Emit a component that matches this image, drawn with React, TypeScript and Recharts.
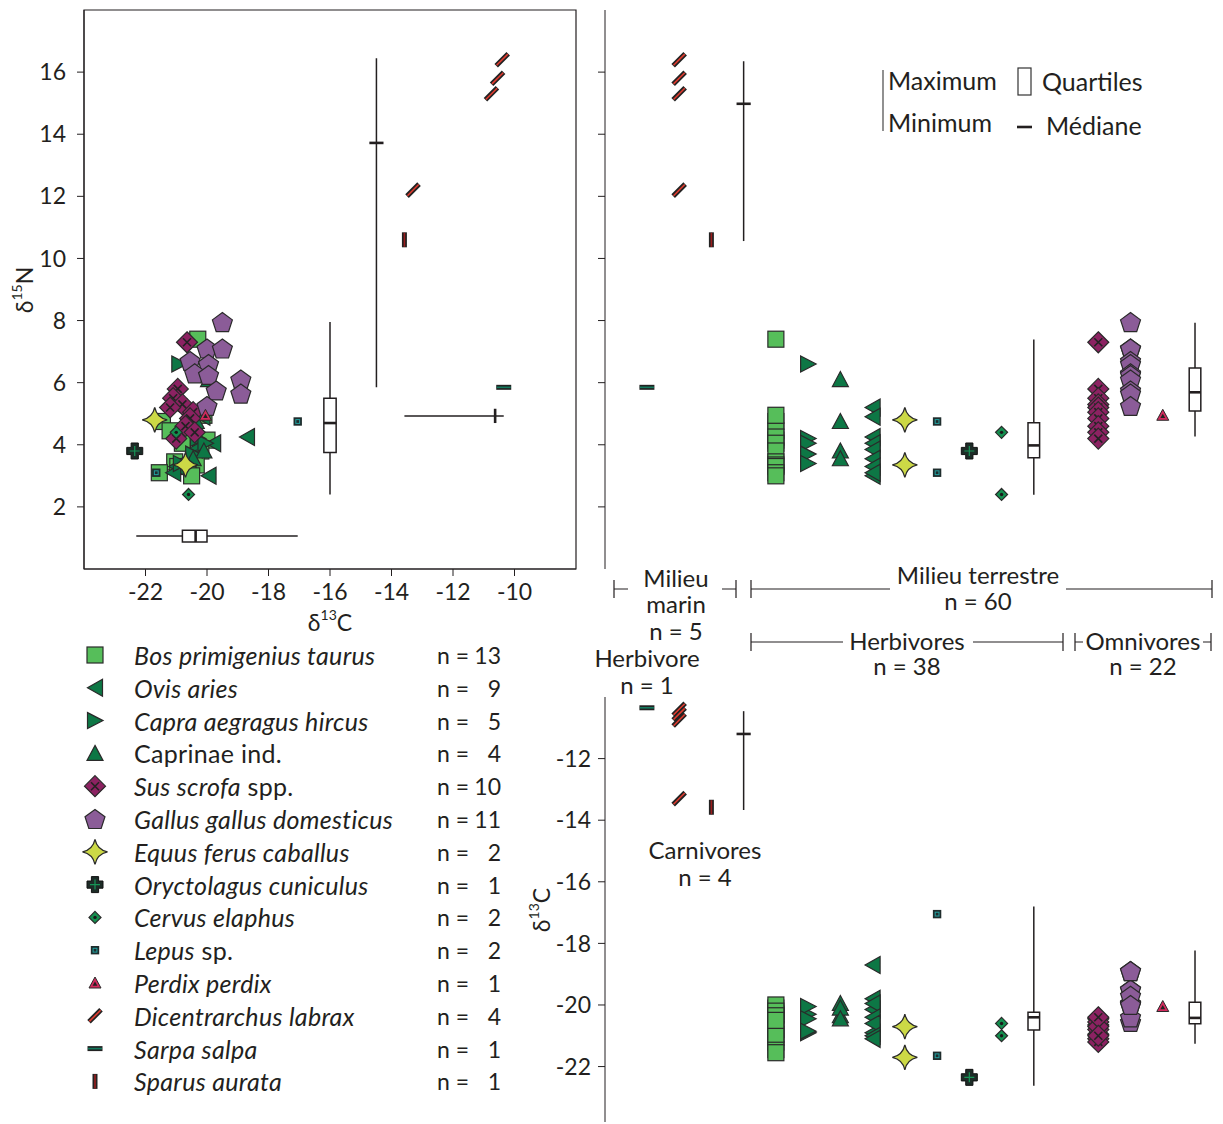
import React from "react";
import { ScatterChart, Scatter, XAxis, YAxis, ReferenceLine, ReferenceArea } from "recharts";

const FONT = "Lato, 'Open Sans', sans-serif";
const INK = "#231f20";
const EDGE = "#2a2a2a";

// species, in legend order
const speciesKeys = ["bos", "ovis", "capra", "caprinae", "sus", "gallus", "equus", "oryctolagus", "cervus", "lepus", "perdix", "dicentrarchus", "sarpa", "sparus"];
const legendItalic = ["Bos primigenius taurus", "Ovis aries", "Capra aegragus hircus", "", "Sus scrofa", "Gallus gallus domesticus", "Equus ferus caballus", "Oryctolagus cuniculus", "Cervus elaphus", "Lepus", "Perdix perdix", "Dicentrarchus labrax", "Sarpa salpa", "Sparus aurata"];
const legendPlain = ["", "", "", "Caprinae ind.", " spp.", "", "", "", "", " sp.", "", "", "", ""];
const speciesCounts = [13, 9, 5, 4, 10, 11, 2, 1, 2, 2, 1, 4, 1, 1];

// d13C / d15N values, paired by position
const bosC = [-20.3, -21.45, -21.2, -20.1, -20.0, -20.65, -20.8, -20.2, -21.05, -20.35, -20.95, -21.55, -20.5];
const bosN = [7.4, 4.75, 4.45, 4.95, 4.15, 4.25, 4.05, 3.8, 3.45, 3.35, 3.3, 3.1, 3.0];
const ovisC = [-18.7, -20.9, -20.15, -19.8, -19.95, -20.4, -20.6, -21.0, -21.1];
const ovisN = [4.25, 5.2, 4.9, 4.05, 3.0, 3.85, 3.55, 3.3, 3.1];
const capraC = [-20.9, -20.3, -20.05, -20.45, -20.85];
const capraN = [6.6, 4.2, 4.05, 3.7, 3.4];
const caprinaeC = [-19.95, -20.35, -20.1, -20.45];
const caprinaeN = [6.1, 4.75, 3.8, 3.55];
const susC = [-20.65, -20.95, -21.1, -20.8, -21.2, -20.45, -20.55, -20.7, -20.4, -21.0];
const susN = [7.3, 5.8, 5.5, 5.3, 5.2, 5.05, 4.85, 4.6, 4.4, 4.2];
const gallusC = [-19.5, -20.0, -19.5, -20.55, -19.95, -20.4, -19.95, -18.9, -19.7, -18.9, -20.0];
const gallusN = [7.95, 7.1, 7.1, 6.7, 6.6, 6.3, 6.25, 6.1, 5.75, 5.65, 5.25];
const equusC = [-21.7, -20.7];
const equusN = [4.8, 3.35];
const oryctolagusC = [-22.35];
const oryctolagusN = [3.8];
const cervusC = [-21.0, -20.6];
const cervusN = [4.4, 2.4];
const lepusC = [-17.05, -21.65];
const lepusN = [4.75, 3.1];
const perdixC = [-20.05];
const perdixN = [4.95];
const dicentrarchusC = [-10.4, -10.55, -10.75, -13.3];
const dicentrarchusN = [16.4, 15.8, 15.3, 12.2];
const sarpaC = [-10.35];
const sarpaN = [5.85];
const sparusC = [-13.58];
const sparusN = [10.6];

const allC = [bosC, ovisC, capraC, caprinaeC, susC, gallusC, equusC, oryctolagusC, cervusC, lepusC, perdixC, dicentrarchusC, sarpaC, sparusC];
const allN = [bosN, ovisN, capraN, caprinaeN, susN, gallusN, equusN, oryctolagusN, cervusN, lepusN, perdixN, dicentrarchusN, sarpaN, sparusN];

// summaries: [min, q1, median, q3, max] for boxes, [min, median, max] for ranges
const terrN = [2.4, 3.75, 4.7, 5.5, 7.95];
const terrC = [-22.3, -20.8, -20.37, -20.0, -17.05];
const marinN = [5.85, 13.72, 16.45];
const marinC = [-13.58, -10.63, -10.35];
const stripMarinN = [10.56, 14.98, 16.35];
const stripHerbN = [2.39, 3.58, 3.98, 4.71, 7.39];
const stripOmniN = [4.27, 5.09, 5.69, 6.47, 7.93];
const stripMarinC = [-13.67, -11.2, -10.46];
const stripHerbC = [-22.62, -20.81, -20.4, -20.24, -16.8];
const stripOmniC = [-21.26, -20.61, -20.42, -19.91, -18.23];

// category order along the strip plots ("" is an empty slot)
const stripSlots = ["sarpa", "dicentrarchus", "sparus", "marin", "bos", "capra", "caprinae", "ovis", "equus", "lepus", "oryctolagus", "cervus", "herbivores", "", "sus", "gallus", "perdix", "omnivores"];

const n15Ticks = [2, 4, 6, 8, 10, 12, 14, 16];
const c13Ticks = [-22, -20, -18, -16, -14, -12, -10];
const c13StripTicks = [-22, -20, -18, -16, -14, -12];

const slot = (k: string) => stripSlots.indexOf(k);

function Marker({ kind, cx, cy }: { kind: string; cx: number; cy: number }) {
  switch (kind) {
    case "bos":
      return <rect x={cx - 8} y={cy - 8} width={16} height={16} fill="#56be5a" stroke={EDGE} strokeWidth={1.2} />;
    case "ovis":
      return <polygon points={`${cx + 7.5},${cy - 8.5} ${cx + 7.5},${cy + 8.5} ${cx - 7.5},${cy}`} fill="#0d7745" stroke={EDGE} strokeWidth={1.2} />;
    case "capra":
      return <polygon points={`${cx - 7.5},${cy - 8} ${cx - 7.5},${cy + 8} ${cx + 8},${cy}`} fill="#0d7745" stroke={EDGE} strokeWidth={1.2} />;
    case "caprinae":
      return <polygon points={`${cx},${cy - 8} ${cx + 8},${cy + 7} ${cx - 8},${cy + 7}`} fill="#0d7745" stroke={EDGE} strokeWidth={1.2} />;
    case "sus":
      return (
        <g>
          <polygon points={`${cx},${cy - 10.5} ${cx + 10.5},${cy} ${cx},${cy + 10.5} ${cx - 10.5},${cy}`} fill="#8c2262" stroke={EDGE} strokeWidth={1.2} />
          <path d={`M${cx - 4},${cy - 4}L${cx + 4},${cy + 4}M${cx + 4},${cy - 4}L${cx - 4},${cy + 4}`} stroke="#222" strokeWidth={1.6} />
        </g>
      );
    case "gallus": {
      const pts = [0, 1, 2, 3, 4].map((k) => {
        const a = (-90 + k * 72) * (Math.PI / 180);
        return `${cx + 10.5 * Math.cos(a)},${cy + 1 + 10.5 * Math.sin(a)}`;
      });
      return <polygon points={pts.join(" ")} fill="#8b5c98" stroke={EDGE} strokeWidth={1.2} />;
    }
    case "equus": {
      const r = 12.5;
      const c = 2.2;
      return (
        <path
          d={`M${cx},${cy - r}Q${cx + c},${cy - c} ${cx + r},${cy}Q${cx + c},${cy + c} ${cx},${cy + r}Q${cx - c},${cy + c} ${cx - r},${cy}Q${cx - c},${cy - c} ${cx},${cy - r}Z`}
          fill="#ccd946"
          stroke={EDGE}
          strokeWidth={1.3}
        />
      );
    }
    case "oryctolagus": {
      const a = 3.6;
      const b = 8;
      const p = [[-a, -b], [a, -b], [a, -a], [b, -a], [b, a], [a, a], [a, b], [-a, b], [-a, a], [-b, a], [-b, -a], [-a, -a]];
      return (
        <g>
          <polygon points={p.map(([x, y]) => `${cx + x},${cy + y}`).join(" ")} fill="#1d2c27" stroke="#111" strokeWidth={1} />
          <path d={`M${cx - 5},${cy}L${cx + 5},${cy}M${cx},${cy - 5}L${cx},${cy + 5}`} stroke="#179556" strokeWidth={1.2} />
        </g>
      );
    }
    case "cervus":
      return (
        <g>
          <polygon points={`${cx},${cy - 6} ${cx + 6},${cy} ${cx},${cy + 6} ${cx - 6},${cy}`} fill="#13904f" stroke={EDGE} strokeWidth={1.2} />
          <circle cx={cx} cy={cy} r={1.7} fill="#1a1a1a" />
        </g>
      );
    case "lepus":
      return (
        <g>
          <rect x={cx - 4.2} y={cy - 4.2} width={8.4} height={8.4} fill="#1f2d2d" />
          <rect x={cx - 1.9} y={cy - 1.9} width={3.8} height={3.8} fill="none" stroke="#22a0a0" strokeWidth={1} />
        </g>
      );
    case "perdix":
      return (
        <g>
          <polygon points={`${cx},${cy - 6} ${cx + 6},${cy + 5} ${cx - 6},${cy + 5}`} fill="#d22a5d" stroke={EDGE} strokeWidth={1} />
          <polygon points={`${cx},${cy - 1.5} ${cx + 2.4},${cy + 2.7} ${cx - 2.4},${cy + 2.7}`} fill="#222" />
        </g>
      );
    case "dicentrarchus":
      return (
        <g>
          <line x1={cx - 6} y1={cy + 6} x2={cx + 6} y2={cy - 6} stroke="#222" strokeWidth={5} />
          <line x1={cx - 5.6} y1={cy + 5.6} x2={cx + 5.6} y2={cy - 5.6} stroke="#e23b2f" strokeWidth={1.6} />
        </g>
      );
    case "sarpa":
      return (
        <g>
          <line x1={cx - 7.5} y1={cy} x2={cx + 7.5} y2={cy} stroke="#222" strokeWidth={5} />
          <line x1={cx - 7} y1={cy} x2={cx + 7} y2={cy} stroke="#127a5e" strokeWidth={1.6} />
        </g>
      );
    case "sparus":
      return (
        <g>
          <line x1={cx} y1={cy - 7.5} x2={cx} y2={cy + 7.5} stroke="#222" strokeWidth={5} />
          <line x1={cx} y1={cy - 7} x2={cx} y2={cy + 7} stroke="#9a1d1d" strokeWidth={1.6} />
        </g>
      );
    default:
      return <g />;
  }
}

const shapeFor = (kind: string) => (p: any) => <Marker kind={kind} cx={p.cx} cy={p.cy} />;

// vertical box: whiskers, box, median
function boxV(x: number, s: number[], hw: number, key: string) {
  const [mn, q1, md, q3, mx] = s;
  return [
    <ReferenceLine key={key + "a"} segment={[{ x, y: mn }, { x, y: q1 }]} stroke={INK} strokeWidth={1.5} />,
    <ReferenceLine key={key + "b"} segment={[{ x, y: q3 }, { x, y: mx }]} stroke={INK} strokeWidth={1.5} />,
    <ReferenceArea key={key + "c"} x1={x - hw} x2={x + hw} y1={q1} y2={q3} fill="#fff" fillOpacity={1} stroke={INK} strokeWidth={1.5} />,
    <ReferenceLine key={key + "d"} segment={[{ x: x - hw, y: md }, { x: x + hw, y: md }]} stroke={INK} strokeWidth={2.6} />,
  ];
}

function boxH(y: number, s: number[], hh: number, key: string) {
  const [mn, q1, md, q3, mx] = s;
  return [
    <ReferenceLine key={key + "a"} segment={[{ x: mn, y }, { x: q1, y }]} stroke={INK} strokeWidth={1.5} />,
    <ReferenceLine key={key + "b"} segment={[{ x: q3, y }, { x: mx, y }]} stroke={INK} strokeWidth={1.5} />,
    <ReferenceArea key={key + "c"} x1={q1} x2={q3} y1={y - hh} y2={y + hh} fill="#fff" fillOpacity={1} stroke={INK} strokeWidth={1.5} />,
    <ReferenceLine key={key + "d"} segment={[{ x: md, y: y - hh }, { x: md, y: y + hh }]} stroke={INK} strokeWidth={2.6} />,
  ];
}

function rangeV(x: number, s: number[], hw: number, key: string) {
  const [mn, md, mx] = s;
  return [
    <ReferenceLine key={key + "a"} segment={[{ x, y: mn }, { x, y: mx }]} stroke={INK} strokeWidth={1.5} />,
    <ReferenceLine key={key + "b"} segment={[{ x: x - hw, y: md }, { x: x + hw, y: md }]} stroke={INK} strokeWidth={2.6} />,
  ];
}

function rangeH(y: number, s: number[], hh: number, key: string) {
  const [mn, md, mx] = s;
  return [
    <ReferenceLine key={key + "a"} segment={[{ x: mn, y }, { x: mx, y }]} stroke={INK} strokeWidth={1.5} />,
    <ReferenceLine key={key + "b"} segment={[{ x: md, y: y - hh }, { x: md, y: y + hh }]} stroke={INK} strokeWidth={2.6} />,
  ];
}

const tickStyle = { fill: INK, fontSize: 23, fontFamily: FONT };

function Delta({ x, y, iso, el, rotate }: { x: number; y: number; iso: string; el: string; rotate?: boolean }) {
  return (
    <text
      transform={`translate(${x},${y})${rotate ? " rotate(-90)" : ""}`}
      textAnchor="middle"
      dominantBaseline="central"
      fontSize={23}
      fontFamily={FONT}
      fill={INK}
    >
      <tspan>δ</tspan>
      <tspan fontSize={14} dy={-8}>{iso}</tspan>
      <tspan dy={8}>{el}</tspan>
    </text>
  );
}

export default function App() {
  const stripN = speciesKeys.map((k, i) => allN[i].map((v) => ({ x: slot(k), y: v })));
  const stripC = speciesKeys.map((k, i) => allC[i].map((v) => ({ x: slot(k), y: v })));
  const pairs = speciesKeys.map((k, i) => allC[i].map((v, j) => ({ x: v, y: allN[i][j] })));
  const stripDomain: [number, number] = [-1.3, 17.62];
  const txt = { fontFamily: FONT, fill: INK };
  const LF = 25;
  const AF = 24;

  return (
    <div style={{ position: "absolute", left: 0, top: 0, width: 1223, height: 1124, background: "#fff" }}>
      {/* d13C vs d15N */}
      <div style={{ position: "absolute", left: 0, top: 0 }}>
        <ScatterChart width={600} height={610} margin={{ top: 10, right: 24, bottom: 11, left: 24 }}>
          <XAxis type="number" dataKey="x" domain={[-24, -8]} ticks={c13Ticks} allowDataOverflow height={30} tickSize={7} tickMargin={8} axisLine={{ stroke: INK }} tickLine={{ stroke: INK }} tick={tickStyle} />
          <YAxis type="number" dataKey="y" domain={[0, 18]} ticks={n15Ticks} allowDataOverflow width={60} tickSize={7} tickMargin={11} axisLine={{ stroke: INK }} tickLine={{ stroke: INK }} tick={tickStyle} />
          <ReferenceArea x1={-24} x2={-8} y1={0} y2={18} fill="none" stroke={INK} strokeWidth={1.2} />
          {boxV(-16, terrN, 0.2, "tv")}
          {boxH(1.06, terrC, 0.19, "th")}
          {rangeV(-14.49, marinN, 0.23, "mv")}
          {rangeH(4.93, marinC, 0.23, "mh")}
          {speciesKeys.map((k, i) => (
            <Scatter key={k} data={pairs[i]} shape={shapeFor(k)} isAnimationActive={false} />
          ))}
        </ScatterChart>
      </div>

      {/* d15N per category */}
      <div style={{ position: "absolute", left: 530, top: 0 }}>
        <ScatterChart width={693} height={610} margin={{ top: 10, right: 8, bottom: 41, left: 0 }}>
          <XAxis type="number" dataKey="x" domain={stripDomain} allowDataOverflow hide />
          <YAxis type="number" dataKey="y" domain={[0, 18]} ticks={n15Ticks} allowDataOverflow width={75} tickSize={7} axisLine={{ stroke: INK }} tickLine={{ stroke: INK }} tickFormatter={() => ""} />
          {rangeV(slot("marin"), stripMarinN, 0.22, "sm")}
          {boxV(slot("herbivores"), stripHerbN, 0.18, "sh")}
          {boxV(slot("omnivores"), stripOmniN, 0.18, "so")}
          {speciesKeys.map((k, i) => (
            <Scatter key={k} data={stripN[i]} shape={shapeFor(k)} isAnimationActive={false} />
          ))}
        </ScatterChart>
      </div>

      {/* d13C per category */}
      <div style={{ position: "absolute", left: 530, top: 680 }}>
        <ScatterChart width={693} height={444} margin={{ top: 17, right: 8, bottom: 2, left: 0 }}>
          <XAxis type="number" dataKey="x" domain={stripDomain} allowDataOverflow hide />
          <YAxis type="number" dataKey="y" domain={[-23.8, -10]} ticks={c13StripTicks} allowDataOverflow width={75} tickSize={7} tickMargin={7} axisLine={{ stroke: INK }} tickLine={{ stroke: INK }} tick={tickStyle} />
          {rangeV(slot("marin"), stripMarinC, 0.22, "cm")}
          {boxV(slot("herbivores"), stripHerbC, 0.18, "ch")}
          {boxV(slot("omnivores"), stripOmniC, 0.18, "co")}
          {speciesKeys.map((k, i) => (
            <Scatter key={k} data={stripC[i]} shape={shapeFor(k)} isAnimationActive={false} />
          ))}
        </ScatterChart>
      </div>

      {/* labels, legend and group brackets */}
      <svg width={1223} height={1124} style={{ position: "absolute", left: 0, top: 0, pointerEvents: "none" }}>
        <Delta x={24} y={290} iso="15" el="N" rotate />
        <Delta x={330} y={622} iso="13" el="C" />
        <Delta x={541} y={910} iso="13" el="C" rotate />

        {speciesKeys.map((k, i) => {
          const y = 655 + i * 32.8;
          return (
            <g key={k}>
              <Marker kind={k} cx={95} cy={y} />
              <text x={134} y={y} dominantBaseline="central" fontSize={LF} letterSpacing={0.3} style={{ whiteSpace: "pre" }} {...txt}>
                {legendItalic[i] && <tspan fontStyle="italic">{legendItalic[i]}</tspan>}
                {legendPlain[i] && <tspan>{legendPlain[i]}</tspan>}
              </text>
              <text x={437} y={y} dominantBaseline="central" fontSize={23} {...txt}>n =</text>
              <text x={501} y={y} dominantBaseline="central" fontSize={23} textAnchor="end" {...txt}>{speciesCounts[i]}</text>
            </g>
          );
        })}

        {/* box legend */}
        <line x1={883} y1={70} x2={883} y2={131} stroke="#555" strokeWidth={1.3} />
        <text x={888} y={80} dominantBaseline="central" fontSize={LF} {...txt}>Maximum</text>
        <text x={888} y={122} dominantBaseline="central" fontSize={LF} {...txt}>Minimum</text>
        <rect x={1018} y={68} width={13} height={27} fill="#fff" stroke="#333" strokeWidth={1.2} />
        <text x={1042} y={81} dominantBaseline="central" fontSize={LF} {...txt}>Quartiles</text>
        <line x1={1017} y1={127} x2={1032} y2={127} stroke={INK} strokeWidth={2.6} />
        <text x={1046} y={125} dominantBaseline="central" fontSize={LF} {...txt}>Médiane</text>

        {/* brackets */}
        <g stroke={INK} strokeWidth={1.2} fill="none">
          <path d="M614,580V598M614,589H628" />
          <path d="M722,589H736M736,580V598" />
          <path d="M751,580V598M751,589H890" />
          <path d="M1066,589H1212M1212,580V598" />
          <path d="M751,633V651M751,642H843" />
          <path d="M973,642H1063M1063,633V651" />
          <path d="M1075,633V651M1075,642H1083" />
          <path d="M1203,642H1211M1211,633V651" />
        </g>
        <g fontSize={AF} textAnchor="middle" dominantBaseline="central" {...txt}>
          <text x={676} y={577}>Milieu</text>
          <text x={676} y={603}>marin</text>
          <text x={676} y={630}>n = 5</text>
          <text x={647} y={657}>Herbivore</text>
          <text x={647} y={684}>n = 1</text>
          <text x={978} y={574}>Milieu terrestre</text>
          <text x={978} y={600}>n = 60</text>
          <text x={907} y={640}>Herbivores</text>
          <text x={907} y={665}>n = 38</text>
          <text x={1143} y={640}>Omnivores</text>
          <text x={1143} y={665}>n = 22</text>
          <text x={705} y={849}>Carnivores</text>
          <text x={705} y={876}>n = 4</text>
        </g>
      </svg>
    </div>
  );
}
